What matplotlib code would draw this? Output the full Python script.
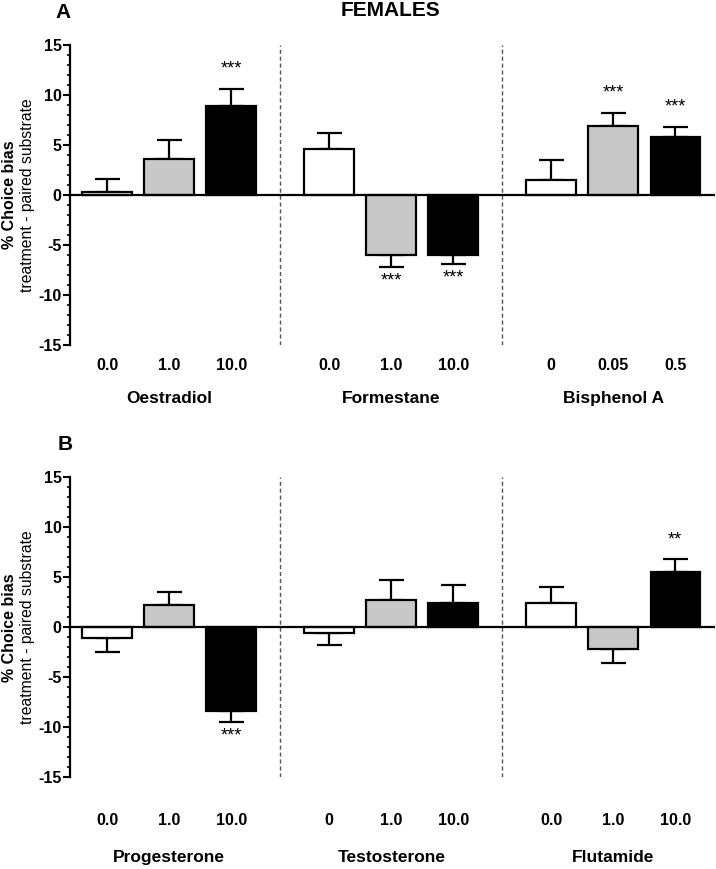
import matplotlib
matplotlib.use("Agg")
import matplotlib.pyplot as plt
import numpy as np

plt.rcParams['font.family'] = ['Liberation Sans', 'DejaVu Sans']
plt.rcParams['axes.unicode_minus'] = False

# ---- data ----
groups_A = ["Oestradiol", "Formestane", "Bisphenol A"]
doses_A = ["0.0", "1.0", "10.0", "0.0", "1.0", "10.0", "0", "0.05", "0.5"]
means_A = [0.3, 3.6, 8.9, 4.6, -6.0, -6.0, 1.5, 6.9, 5.8]
sems_A = [1.3, 1.9, 1.7, 1.6, 1.2, 0.9, 2.0, 1.3, 1.0]
stars_A = ["", "", "***", "", "***", "***", "", "***", "***"]

groups_B = ["Progesterone", "Testosterone", "Flutamide"]
doses_B = ["0.0", "1.0", "10.0", "0", "1.0", "10.0", "0.0", "1.0", "10.0"]
means_B = [-1.1, 2.2, -8.4, -0.6, 2.7, 2.4, 2.4, -2.2, 5.5]
sems_B = [1.4, 1.3, 1.1, 1.2, 2.0, 1.8, 1.6, 1.4, 1.3]
stars_B = ["", "", "***", "", "", "", "", "", "**"]

colors = ["white", "#c8c8c8", "black"]
GAP = 3.58

fig = plt.figure(figsize=(7.16, 8.69), dpi=100)


def panel(rect, groups, doses, means, sems, stars, tick_pad, group_y):
    ax = fig.add_axes(rect)
    n = len(means)
    pos = np.array([(i // 3) * GAP + (i % 3) for i in range(n)])
    cols = [colors[i % 3] for i in range(n)]
    ax.bar(pos, means, width=0.8, color=cols, edgecolor="black",
           linewidth=1.6, zorder=3)
    for x, m, s, st in zip(pos, means, sems, stars):
        if m >= 0:
            yerr = [[0], [s]]
            end = m + s
        else:
            yerr = [[s], [0]]
            end = m - s
        ax.errorbar([x], [m], yerr=yerr, fmt="none", ecolor="black",
                    elinewidth=1.6, capsize=9, capthick=1.6, zorder=2)
        if st:
            off = 8 if m >= 0 else -16
            ax.annotate(st, (x, end), xytext=(0, off), textcoords="offset points",
                        ha="center", va="bottom", fontsize=13)
    ax.axhline(0, color="black", lw=1.6, zorder=4)
    for g in range(1, len(groups)):
        xd = (pos[3 * g - 1] + pos[3 * g]) / 2
        ax.axvline(xd, color="#555555", lw=1.0, ls=(0, (3, 2)), zorder=1)
    ax.set_xlim(-0.6, 9.8)
    ax.set_ylim(-15, 15)
    ax.set_yticks(np.arange(-15, 16, 5))
    ax.set_yticks(np.arange(-15, 16, 1), minor=True)
    ax.tick_params(axis="y", which="major", length=5, width=1.5, labelsize=11.5, pad=1)
    ax.tick_params(axis="y", which="minor", length=2.5, width=1.2)
    for lab in ax.get_yticklabels():
        lab.set_fontweight("bold")
    ax.set_xticks(pos)
    ax.set_xticklabels(doses, fontsize=11.5, fontweight="bold")
    ax.tick_params(axis="x", length=0, pad=tick_pad)
    for sp in ["top", "right", "bottom"]:
        ax.spines[sp].set_visible(False)
    ax.spines["left"].set_linewidth(1.6)
    for g, name in enumerate(groups):
        ax.text(pos[3 * g + 1], group_y, name, transform=ax.get_xaxis_transform(),
                ha="center", va="center", fontsize=12.5, fontweight="bold")
    ax.text(-0.094, 0.5, "% Choice bias", transform=ax.transAxes, rotation=90,
            ha="center", va="center", fontsize=11.5, fontweight="bold")
    ax.text(-0.066, 0.5, "treatment - paired substrate", transform=ax.transAxes,
            rotation=90, ha="center", va="center", fontsize=11.3)
    return ax


axA = panel([70 / 716, 1 - 345 / 869, 645 / 716, 300 / 869],
            groups_A, doses_A, means_A, sems_A, stars_A, 9, -0.177)
axB = panel([70 / 716, 1 - 777.3 / 869, 645 / 716, 300 / 869],
            groups_B, doses_B, means_B, sems_B, stars_B, 26, -0.268)

fig.text(63 / 716, 1 - 12 / 869, "A", ha="center", va="center", fontsize=15, fontweight="bold")
fig.text(391 / 716, 1 - 11 / 869, "FEMALES", ha="center", va="center", fontsize=15, fontweight="bold")
fig.text(65 / 716, 1 - 444 / 869, "B", ha="center", va="center", fontsize=15, fontweight="bold")

fig.savefig("out.png", dpi=100, facecolor="white")
